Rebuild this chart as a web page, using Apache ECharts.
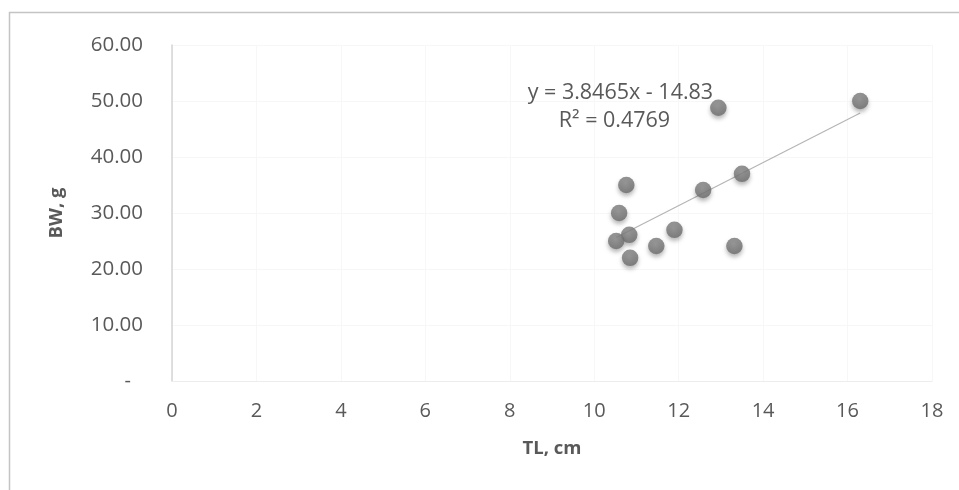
<!DOCTYPE html>
<html><head><meta charset="utf-8">
<script src="https://cdn.jsdelivr.net/npm/echarts@6/dist/echarts.min.js"></script>
<style>html,body{margin:0;padding:0;background:#fff}#c{width:959px;height:490px}</style>
</head><body><div id="c"></div>
<script>
const tlCm = [16.3, 12.94, 10.76, 13.5, 12.58, 10.59, 10.83, 11.9, 10.52, 11.47, 13.32, 10.85];
const bwG  = [50.0, 48.8, 35.0, 37.0, 34.1, 30.0, 26.1, 27.0, 25.0, 24.1, 24.1, 22.0];
const trendSlope = [3.8465];
const trendIntercept = [-14.83];
const trendLabel = ['y = 3.8465x - 14.83', 'R² = 0.4769'];
const xTicks = [0, 2, 4, 6, 8, 10, 12, 14, 16, 18];
const yTicks = [0, 10, 20, 30, 40, 50, 60];

const pts = tlCm.map((x, i) => [x, bwG[i]]);
const xMin = Math.min(...tlCm), xMax = Math.max(...tlCm);
const trend = [xMin, xMax].map(x => [x, trendSlope[0] * x + trendIntercept[0]]);

const chart = echarts.init(document.getElementById('c'));
const font = '"Open Sans", "Liberation Sans", sans-serif';
const border = {type: 'rect', shape: {x: 9.5, y: 12.5, width: 1000, height: 600}, style: {fill: 'none', stroke: '#c4c4c4', lineWidth: 1.5}, silent: true};
chart.setOption({
  animation: false,
  graphic: [border],
  grid: {left: 172, right: 27, top: 45, bottom: 109},
  xAxis: {
    type: 'value', min: 0, max: 18, interval: 2,
    name: 'TL, cm', nameLocation: 'middle', nameGap: 58,
    nameTextStyle: {fontFamily: font, fontWeight: 'bold', fontSize: 18.5, color: '#595959'},
    axisLine: {show: true, lineStyle: {color: '#ededed'}},
    axisTick: {show: false},
    axisLabel: {fontFamily: font, fontSize: 20, color: '#595959', margin: 20},
    splitLine: {show: true, lineStyle: {color: '#f7f7f7'}}
  },
  yAxis: {
    type: 'value', min: 0, max: 60, interval: 10,
    name: 'BW, g', nameLocation: 'middle', nameGap: 106, nameRotate: 90,
    nameTextStyle: {fontFamily: font, fontWeight: 'bold', fontSize: 18.5, color: '#595959'},
    axisLine: {show: true, lineStyle: {color: '#d4d4d4', width: 1.5}},
    axisTick: {show: false},
    axisLabel: {fontFamily: font, fontSize: 20.5, color: '#595959', margin: 29,
      formatter: v => v === 0 ? '{d|-}' : v.toFixed(2),
      rich: {d: {fontFamily: font, fontSize: 20, color: '#595959', padding: [0, 12, 0, 0]}}},
    splitLine: {show: true, lineStyle: {color: '#f7f7f7'}}
  },
  series: [
    {type: 'line', data: trend, symbol: 'none', lineStyle: {color: '#b5b5b5', width: 1.2}, z: 1},
    {type: 'scatter', data: pts, symbolSize: 16.5, z: 3,
     itemStyle: {
       color: {type: 'radial', x: 0.45, y: 0.4, r: 0.6, colorStops: [{offset: 0, color: '#8a8a8a'}, {offset: 1, color: '#6b6b6b'}]},
       shadowColor: 'rgba(0,0,0,0.35)', shadowBlur: 4, shadowOffsetY: 3
     }}
  ]
});
// trendline equation label anchored in data coordinates
const p1 = chart.convertToPixel({gridIndex: 0}, [10.62, 51.5]);
const p2 = chart.convertToPixel({gridIndex: 0}, [10.48, 46.5]);
const tStyle = {fontFamily: font, fontSize: 21.5, fill: '#595959', align: 'center', verticalAlign: 'middle'};
chart.setOption({graphic: [
  border,
  {type: 'text', z: 100, x: p1[0], y: p1[1], style: Object.assign({text: trendLabel[0]}, tStyle)},
  {type: 'text', z: 100, x: p2[0], y: p2[1], style: Object.assign({text: trendLabel[1]}, tStyle)}
]});
</script></body></html>
